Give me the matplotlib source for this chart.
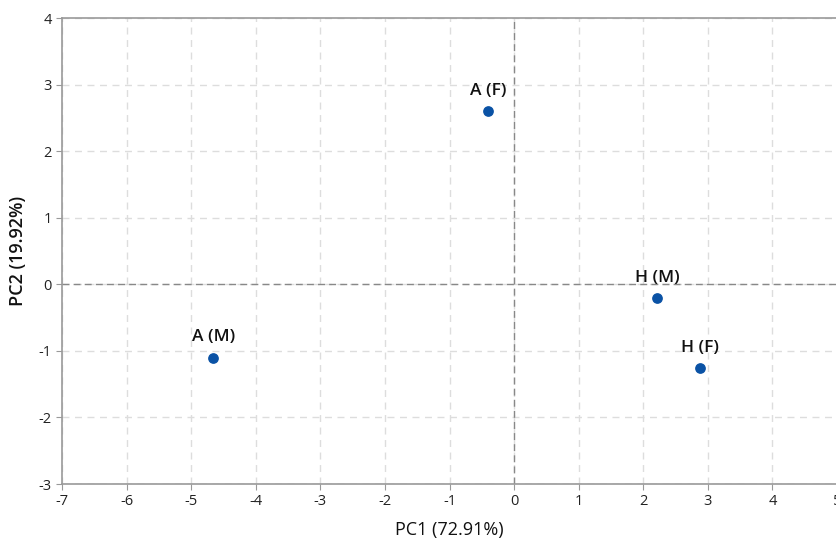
import matplotlib.pyplot as plt

labels = ["A (F)", "A (M)", "H (M)", "H (F)"]
pc1 = [-0.40, -4.66, 2.21, 2.88]
pc2 = [2.60, -1.10, -0.21, -1.26]

xticks = list(range(-7, 6))
yticks = list(range(-3, 5))

plt.rcParams['font.family'] = ['Open Sans', 'DejaVu Sans']
plt.rcParams['axes.unicode_minus'] = False

fig = plt.figure(figsize=(8.37, 5.39), dpi=100)
ax = fig.add_axes([0.0741, 0.102, 0.926, 0.8646])

ax.set_xlim(-7, 5)
ax.set_ylim(-3, 4)
ax.set_xticks(xticks)
ax.set_yticks(yticks)
ax.grid(True, color="#dddddd", linestyle=(0, (5, 4)), linewidth=1)
ax.set_axisbelow(True)

ax.axhline(0, color="#888888", linestyle=(0, (5, 3)), linewidth=1)
ax.axvline(0, color="#888888", linestyle=(0, (5, 3)), linewidth=1)

ax.scatter(pc1, pc2, s=45, color="#0a52a5", zorder=3)
for lab, x, y in zip(labels, pc1, pc2):
    ax.annotate(lab, (x, y), xytext=(0, 9), textcoords="offset points",
                ha="center", va="bottom", fontsize=12.5, fontweight="semibold",
                color="#111111")

for side in ["left", "bottom", "top"]:
    ax.spines[side].set_color("#999999")
    ax.spines[side].set_linewidth(1.2)
ax.spines["right"].set_visible(False)
ax.tick_params(colors="#999999", labelcolor="#222222", labelsize=10.5, length=4)

ax.set_xlabel("PC1 (72.91%)", fontsize=13, color="#111111", labelpad=8)
ax.set_ylabel("PC2 (19.92%)", fontsize=13, fontweight="semibold",
              color="#111111", labelpad=8)

fig.savefig("out.png", dpi=100)
